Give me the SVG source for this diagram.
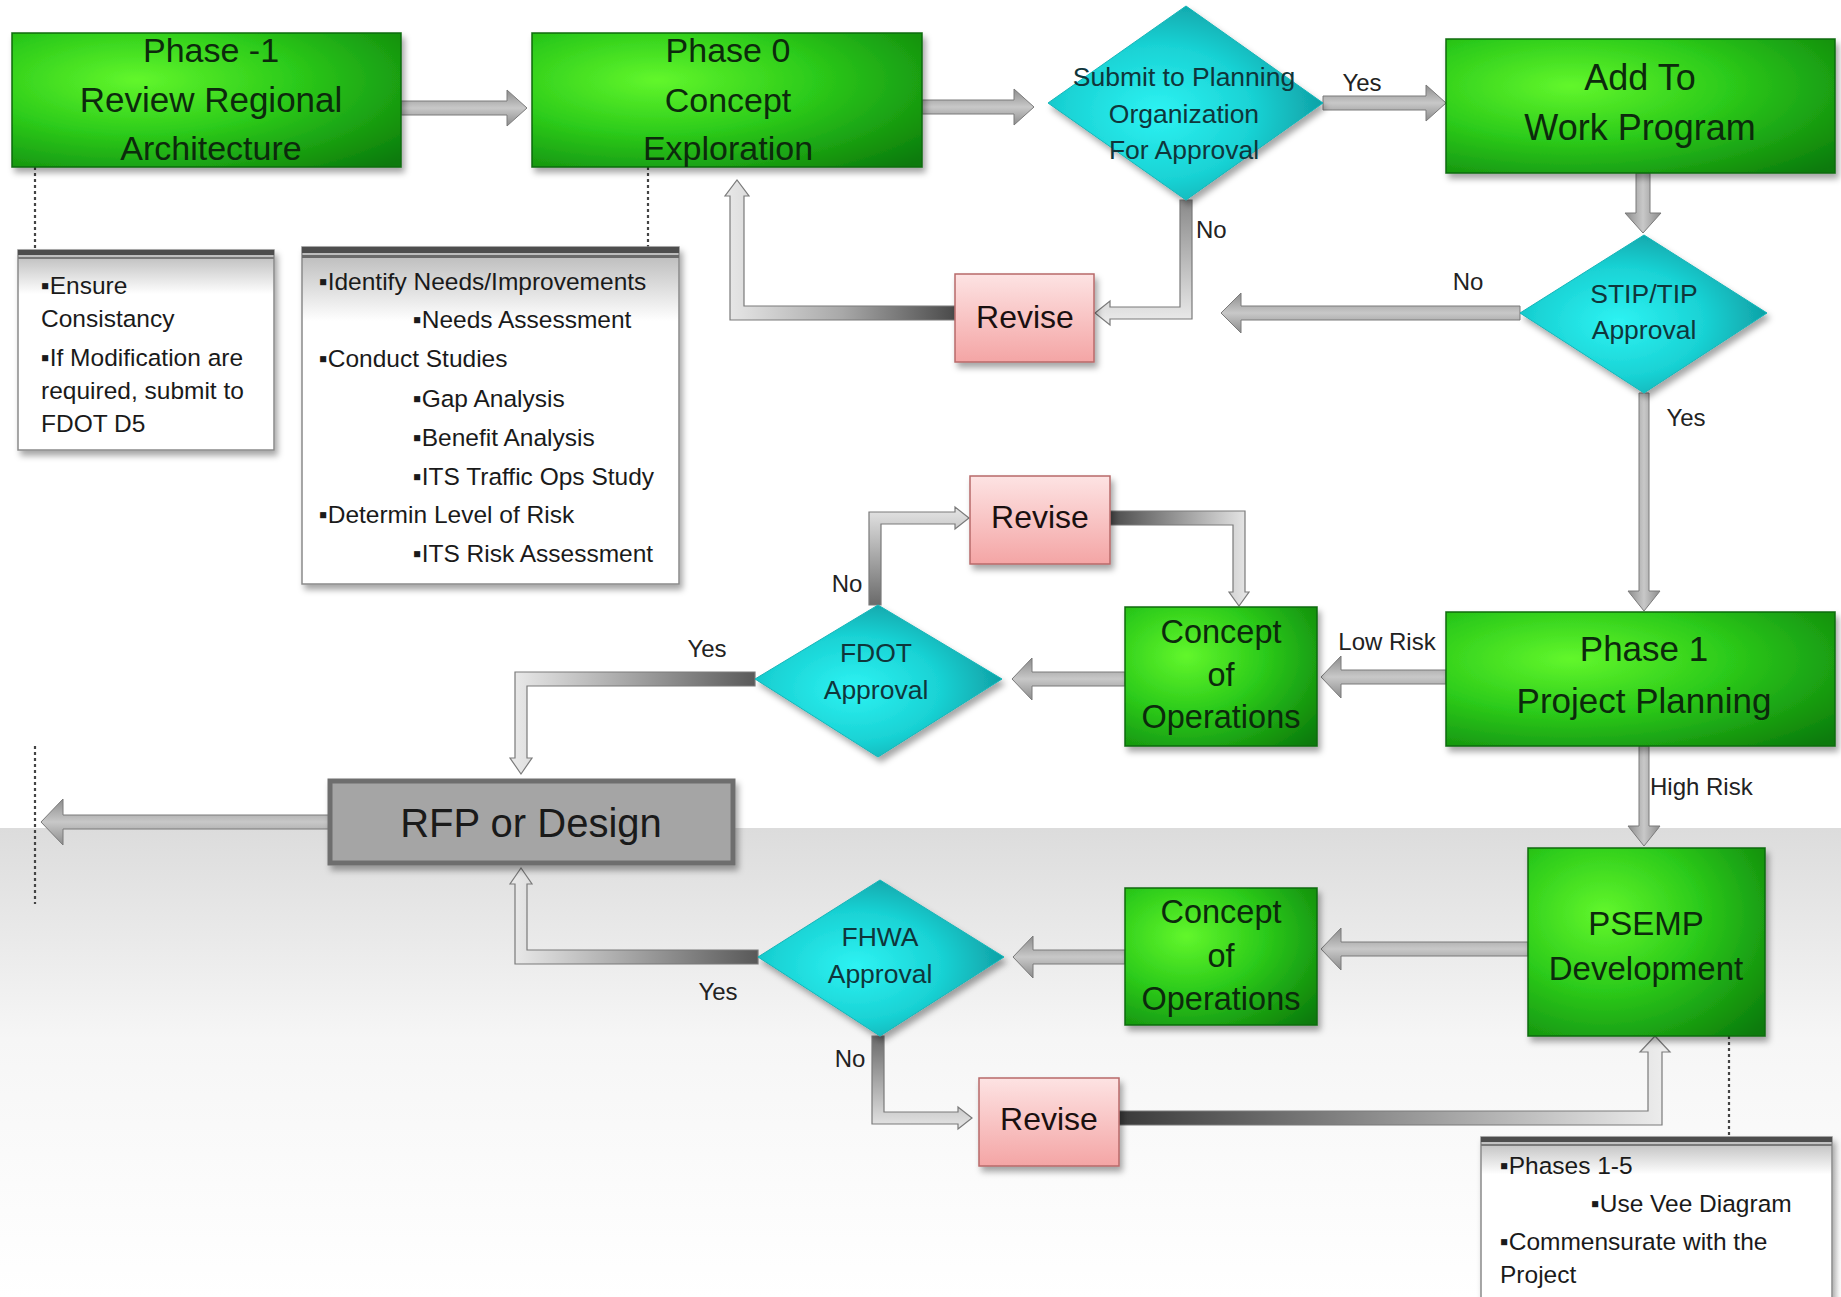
<svg xmlns="http://www.w3.org/2000/svg" width="1841" height="1297" viewBox="0 0 1841 1297">
<defs>
<linearGradient id="bg" x1="0" y1="0" x2="0" y2="1">
<stop offset="0" stop-color="#dcdcdc"/><stop offset="0.45" stop-color="#f6f6f6"/><stop offset="1" stop-color="#ffffff"/>
</linearGradient>
<radialGradient id="green" cx="0.32" cy="0.35" r="0.9">
<stop offset="0" stop-color="#62f72c"/><stop offset="0.45" stop-color="#2ccb1a"/><stop offset="1" stop-color="#0a7a0a"/>
</radialGradient>
<radialGradient id="cyan" cx="0.4" cy="0.55" r="0.7">
<stop offset="0" stop-color="#2ef3f3"/><stop offset="0.5" stop-color="#19d2d4"/><stop offset="1" stop-color="#0b8e94"/>
</radialGradient>
<linearGradient id="pink" x1="0" y1="0" x2="0" y2="1">
<stop offset="0" stop-color="#fde3e3"/><stop offset="1" stop-color="#f4a5a5"/>
</linearGradient>
<linearGradient id="note" x1="0" y1="0" x2="0" y2="1">
<stop offset="0" stop-color="#b5b5b5"/><stop offset="0.22" stop-color="#ffffff"/><stop offset="1" stop-color="#ffffff"/>
</linearGradient>
<linearGradient id="ah" x1="0" y1="0" x2="0" y2="1">
<stop offset="0" stop-color="#8c8c8c"/><stop offset="0.5" stop-color="#c8c8c8"/><stop offset="1" stop-color="#8c8c8c"/>
</linearGradient>
<linearGradient id="av" x1="0" y1="0" x2="1" y2="0">
<stop offset="0" stop-color="#8c8c8c"/><stop offset="0.5" stop-color="#c8c8c8"/><stop offset="1" stop-color="#8c8c8c"/>
</linearGradient>
<linearGradient id="e1" gradientUnits="userSpaceOnUse" x1="955" y1="0" x2="730" y2="0">
<stop offset="0" stop-color="#4a4a4a"/><stop offset="0.5" stop-color="#a8a8a8"/><stop offset="1" stop-color="#e6e6e6"/>
</linearGradient>
<linearGradient id="e2" gradientUnits="userSpaceOnUse" x1="0" y1="200" x2="0" y2="319">
<stop offset="0" stop-color="#8a8a8a"/><stop offset="1" stop-color="#e8e8e8"/>
</linearGradient>
<linearGradient id="e3" gradientUnits="userSpaceOnUse" x1="0" y1="605" x2="0" y2="512">
<stop offset="0" stop-color="#6a6a6a"/><stop offset="1" stop-color="#e0e0e0"/>
</linearGradient>
<linearGradient id="e4" gradientUnits="userSpaceOnUse" x1="1110" y1="0" x2="1245" y2="0">
<stop offset="0" stop-color="#4a4a4a"/><stop offset="1" stop-color="#e4e4e4"/>
</linearGradient>
<linearGradient id="e5" gradientUnits="userSpaceOnUse" x1="755" y1="0" x2="515" y2="0">
<stop offset="0" stop-color="#5a5a5a"/><stop offset="0.6" stop-color="#b0b0b0"/><stop offset="1" stop-color="#e8e8e8"/>
</linearGradient>
<linearGradient id="e7" gradientUnits="userSpaceOnUse" x1="0" y1="1036" x2="0" y2="1124">
<stop offset="0" stop-color="#6a6a6a"/><stop offset="1" stop-color="#e0e0e0"/>
</linearGradient>
<linearGradient id="e8" gradientUnits="userSpaceOnUse" x1="1119" y1="0" x2="1662" y2="0">
<stop offset="0" stop-color="#3a3a3a"/><stop offset="0.55" stop-color="#9a9a9a"/><stop offset="1" stop-color="#ececec"/>
</linearGradient>
<filter id="sh" x="-10%" y="-10%" width="125%" height="130%">
<feDropShadow dx="3" dy="5" stdDeviation="3" flood-color="#000" flood-opacity="0.35"/>
</filter>
</defs>
<style>
.g{fill:url(#green);stroke:#0b6b0b;stroke-width:1.5;filter:url(#sh)}
.d{fill:url(#cyan);stroke:#14b5b8;stroke-width:1}
.r{fill:url(#pink);stroke:#b86a6a;stroke-width:1.5;filter:url(#sh)}
.n{fill:url(#note);stroke:#8a8a8a;stroke-width:1.5;filter:url(#sh)}
.nb{fill:#4d4d4d}
.ah{fill:url(#ah);stroke:#7a7a7a;stroke-width:1}
.av{fill:url(#av);stroke:#7a7a7a;stroke-width:1}
.el{stroke:#7a7a7a;stroke-width:1.2}
.dot{stroke:#444;stroke-width:2.2;stroke-dasharray:3 3;fill:none}
text{font-family:"Liberation Sans",Arial,sans-serif}
.tg{font-size:34px;fill:#0c2a0c;text-anchor:middle}
.td{font-size:26.5px;fill:#0f363b;text-anchor:middle}
.tr{font-size:32px;fill:#1a1010;text-anchor:middle}
.tl{font-size:24px;fill:#222}
.tn{font-size:24.5px;fill:#1a1a1a}
</style>
<rect x="0" y="0" width="1841" height="1297" fill="#ffffff"/>
<rect x="0" y="828" width="1841" height="469" fill="url(#bg)"/>

<g id="connectors">
<polygon class="ah" points="401,101 507,101 507,90 527,108 507,126 507,115 401,115"/>
<polygon class="ah" points="922,100 1014,100 1014,89 1034,107 1014,125 1014,114 922,114"/>
<polygon class="ah" points="1323,96 1426,96 1426,85 1446,103 1426,121 1426,110 1323,110"/>
<polygon class="av" points="1636,173 1636,213 1625,213 1643,233 1661,213 1650,213 1650,173"/>
<polygon class="ah" points="1520,306 1241,306 1241,293 1221,313 1241,333 1241,320 1520,320"/>
<polygon class="av" points="1639,393 1639,591 1628,591 1644,611 1660,591 1649,591 1649,393"/>
<polygon class="ah" points="1446,670 1341,670 1341,656 1321,677 1341,698 1341,684 1446,684"/>
<polygon class="ah" points="1125,672 1032,672 1032,658 1012,679 1032,700 1032,686 1125,686"/>
<polygon class="av" points="1639,746 1639,826 1628,826 1644,846 1660,826 1649,826 1649,746"/>
<polygon class="ah" points="1528,942 1341,942 1341,928 1321,949 1341,970 1341,956 1528,956"/>
<polygon class="ah" points="1125,950 1033,950 1033,936 1013,957 1033,978 1033,964 1125,964"/>
<polygon class="ah" points="330,815 63,815 63,799 41,822 63,845 63,829 330,829"/>
<polygon class="el" fill="url(#e1)" points="955,306 744,306 744,196 749,196 737,180 725,196 730,196 730,320 955,320"/>
<polygon class="el" fill="url(#e2)" points="1180,200 1192,200 1192,319 1110,319 1110,325 1095,313 1110,301 1110,307 1180,307"/>
<polygon class="el" fill="url(#e3)" points="869,605 869,512 955,512 955,507 969,518 955,529 955,524 881,524 881,605"/>
<polygon class="el" fill="url(#e4)" points="1110,511 1245,511 1245,592 1249,592 1239,606 1229,592 1233,592 1233,525 1110,525"/>
<polygon class="el" fill="url(#e5)" points="755,672 515,672 515,758 510,758 521,774 532,758 527,758 527,686 755,686"/>
<polygon class="el" fill="url(#e5)" points="758,964 515,964 515,884 510,884 521,868 532,884 527,884 527,950 758,950"/>
<polygon class="el" fill="url(#e7)" points="872,1036 872,1124 958,1124 958,1129 972,1118 958,1107 958,1112 884,1112 884,1036"/>
<polygon class="el" fill="url(#e8)" points="1119,1111 1648,1111 1648,1052 1640,1052 1655,1036 1670,1052 1662,1052 1662,1125 1119,1125"/>
<line class="dot" x1="35" y1="167" x2="35" y2="250"/>
<line class="dot" x1="648" y1="167" x2="648" y2="247"/>
<line class="dot" x1="35" y1="746" x2="35" y2="904"/>
<line class="dot" x1="1729" y1="1036" x2="1729" y2="1137"/>
<text class="tl" x="1362" y="91" text-anchor="middle">Yes</text>
<text class="tl" x="1196" y="238">No</text>
<text class="tl" x="1468" y="290" text-anchor="middle">No</text>
<text class="tl" x="1686" y="426" text-anchor="middle">Yes</text>
<text class="tl" x="847" y="592" text-anchor="middle">No</text>
<text class="tl" x="707" y="657" text-anchor="middle">Yes</text>
<text class="tl" x="1387" y="650" text-anchor="middle">Low Risk</text>
<text class="tl" x="1650" y="795">High Risk</text>
<text class="tl" x="718" y="1000" text-anchor="middle">Yes</text>
<text class="tl" x="850" y="1067" text-anchor="middle">No</text>
</g>

<g id="phase-1">
<rect class="g" x="12" y="33" width="389" height="134"/>
<text class="tg" x="211" y="62">Phase -1</text>
<text class="tg" x="211" y="112" style="font-size:35px">Review Regional</text>
<text class="tg" x="211" y="160">Architecture</text>
</g>
<g id="phase0">
<rect class="g" x="532" y="33" width="390" height="134"/>
<text class="tg" x="728" y="62">Phase 0</text>
<text class="tg" x="728" y="112">Concept</text>
<text class="tg" x="728" y="160">Exploration</text>
</g>
<g id="submit">
<polygon class="d" filter="url(#sh)" points="1186,6 1323,103 1186,200 1048,103"/>
<text class="td" x="1184" y="86">Submit to Planning</text>
<text class="td" x="1184" y="123">Organization</text>
<text class="td" x="1184" y="159">For Approval</text>
</g>
<g id="addwork">
<rect class="g" x="1446" y="39" width="389" height="134"/>
<text class="tg" x="1640" y="90" style="font-size:36px">Add To</text>
<text class="tg" x="1640" y="140" style="font-size:36px">Work Program</text>
</g>
<g id="stip">
<polygon class="d" filter="url(#sh)" points="1644,235 1767,313 1644,393 1520,313"/>
<text class="td" x="1644" y="303">STIP/TIP</text>
<text class="td" x="1644" y="339">Approval</text>
</g>
<g id="revise1">
<rect class="r" x="955" y="274" width="139" height="88"/>
<text class="tr" x="1025" y="328">Revise</text>
</g>
<g id="note1">
<rect class="n" x="18" y="250" width="256" height="200"/>
<rect class="nb" x="18" y="250" width="256" height="5"/>
<rect x="18" y="257" width="256" height="2" fill="#7a7a7a"/>
<text class="tn" x="41" y="294">▪Ensure</text>
<text class="tn" x="41" y="327">Consistancy</text>
<text class="tn" x="41" y="366">▪If Modification  are</text>
<text class="tn" x="41" y="399">required, submit to</text>
<text class="tn" x="41" y="432">FDOT D5</text>
</g>
<g id="note2">
<rect class="n" x="302" y="247" width="377" height="337"/>
<rect class="nb" x="302" y="247" width="377" height="6"/>
<rect x="302" y="255" width="377" height="3" fill="#6a6a6a"/>
<text class="tn" x="319" y="290">▪Identify Needs/Improvements</text>
<text class="tn" x="413" y="328">▪Needs Assessment</text>
<text class="tn" x="319" y="367">▪Conduct Studies</text>
<text class="tn" x="413" y="407">▪Gap Analysis</text>
<text class="tn" x="413" y="446">▪Benefit Analysis</text>
<text class="tn" x="413" y="485">▪ITS Traffic Ops Study</text>
<text class="tn" x="319" y="523">▪Determin Level of Risk</text>
<text class="tn" x="413" y="562">▪ITS Risk Assessment</text>
</g>
<g id="revise2">
<rect class="r" x="970" y="476" width="140" height="88"/>
<text class="tr" x="1040" y="528">Revise</text>
</g>
<g id="concept1">
<rect class="g" x="1125" y="607" width="192" height="139"/>
<text class="tg" x="1221" y="643" style="font-size:32.5px">Concept</text>
<text class="tg" x="1221" y="686" style="font-size:32.5px">of</text>
<text class="tg" x="1221" y="728" style="font-size:32.5px">Operations</text>
</g>
<g id="phase1">
<rect class="g" x="1446" y="612" width="389" height="134"/>
<text class="tg" x="1644" y="661" style="font-size:35px">Phase 1</text>
<text class="tg" x="1644" y="713" style="font-size:35px">Project Planning</text>
</g>
<g id="fdot">
<polygon class="d" filter="url(#sh)" points="878,605 1002,679 878,757 755,679"/>
<text class="td" x="876" y="662">FDOT</text>
<text class="td" x="876" y="699">Approval</text>
</g>
<g id="rfp">
<rect x="330" y="781" width="403" height="82" fill="#a5a5a5" stroke="#6e6e6e" stroke-width="5" filter="url(#sh)"/>
<text x="531" y="837" text-anchor="middle" style="font-size:40px;fill:#1a1a1a">RFP or Design</text>
</g>
<g id="psemp">
<rect class="g" x="1528" y="848" width="237" height="188"/>
<text class="tg" x="1646" y="935" style="font-size:33px">PSEMP</text>
<text class="tg" x="1646" y="980" style="font-size:33px">Development</text>
</g>
<g id="concept2">
<rect class="g" x="1125" y="888" width="192" height="137"/>
<text class="tg" x="1221" y="923" style="font-size:32.5px">Concept</text>
<text class="tg" x="1221" y="967" style="font-size:32.5px">of</text>
<text class="tg" x="1221" y="1010" style="font-size:32.5px">Operations</text>
</g>
<g id="fhwa">
<polygon class="d" filter="url(#sh)" points="880,880 1004,957 880,1036 758,957"/>
<text class="td" x="880" y="946">FHWA</text>
<text class="td" x="880" y="983">Approval</text>
</g>
<g id="revise3">
<rect class="r" x="979" y="1078" width="140" height="88"/>
<text class="tr" x="1049" y="1130">Revise</text>
</g>
<g id="note3">
<rect class="n" x="1481" y="1137" width="351" height="170"/>
<rect class="nb" x="1481" y="1137" width="351" height="5"/>
<rect x="1481" y="1144" width="351" height="2" fill="#7a7a7a"/>
<text class="tn" x="1500" y="1174">▪Phases 1-5</text>
<text class="tn" x="1591" y="1212">▪Use Vee Diagram</text>
<text class="tn" x="1500" y="1250">▪Commensurate with the</text>
<text class="tn" x="1500" y="1283">Project</text>
</g>
</svg>
